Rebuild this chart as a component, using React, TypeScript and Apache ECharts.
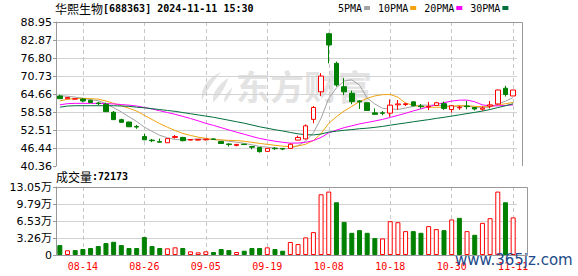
import React, { useEffect, useRef } from "react";
import * as echarts from "echarts";

const dates = [
  "08-09", "08-12", "08-13", "08-14", "08-15", "08-16", "08-19", "08-20", "08-21", "08-22",
  "08-23", "08-26", "08-27", "08-28", "08-29", "08-30", "09-02", "09-03", "09-04", "09-05",
  "09-06", "09-09", "09-10", "09-11", "09-12", "09-13", "09-18", "09-19", "09-20", "09-23",
  "09-24", "09-25", "09-26", "09-27", "09-30", "10-08", "10-09", "10-10", "10-11", "10-14",
  "10-15", "10-16", "10-17", "10-18", "10-21", "10-22", "10-23", "10-24", "10-25", "10-28",
  "10-29", "10-30", "10-31", "11-01", "11-04", "11-05", "11-06", "11-07", "11-08", "11-11",
];

const opens = [
  63.98, 63.07, 62.95, 62.97, 62.5, 61.6, 61.2, 58.5, 56.0, 55.2,
  53.7, 50.3, 49.1, 48.6, 48.2, 50.0, 50.0, 49.1, 49.1, 49.2,
  49.5, 48.6, 47.8, 47.3, 47.75, 46.9, 46.6, 45.3, 46.35, 46.3,
  46.3, 49.1, 49.5, 56.1, 65.4, 85.0, 75.0, 67.1, 64.9, 62.3,
  61.7, 58.3, 58.3, 58.2, 61.0, 61.1, 62.0, 60.6, 60.3, 60.8,
  61.4, 59.4, 60.0, 60.6, 60.1, 59.5, 60.6, 61.3, 66.6, 64.0,
];
const closes = [
  63.07, 63.5, 63.0, 62.3, 61.75, 61.4, 58.7, 56.0, 55.1, 53.6,
  53.5, 49.2, 48.9, 48.4, 49.6, 50.3, 48.9, 49.3, 49.35, 49.4,
  49.3, 47.95, 47.6, 47.65, 47.6, 46.7, 45.2, 46.3, 46.2, 46.1,
  47.7, 50.0, 53.9, 60.1, 70.7, 81.2, 67.7, 65.4, 62.1, 62.0,
  59.1, 57.8, 58.15, 60.9, 61.3, 61.35, 60.7, 60.4, 60.5, 61.7,
  59.8, 60.7, 60.2, 60.4, 59.6, 59.9, 61.0, 66.0, 64.5, 66.0,
];
const lows = [
  63.0, 62.97, 62.9, 61.86, 61.6, 60.9, 58.6, 55.9, 55.0, 53.5,
  52.9, 49.1, 48.4, 48.3, 48.2, 49.6, 48.7, 49.0, 49.0, 49.0,
  49.2, 47.9, 46.9, 47.0, 47.5, 46.0, 44.9, 45.2, 45.8, 45.7,
  46.2, 49.0, 49.3, 54.8, 64.0, 75.0, 67.1, 64.3, 61.2, 59.6,
  59.0, 57.7, 57.5, 57.0, 59.3, 60.6, 60.5, 59.7, 59.2, 60.6,
  59.3, 58.4, 59.3, 59.5, 59.1, 59.0, 59.8, 61.0, 63.8, 64.0,
];
const highs = [
  64.4, 63.6, 63.15, 63.2, 62.8, 62.0, 61.7, 58.9, 56.3, 55.3,
  54.2, 51.3, 49.5, 49.6, 49.6, 50.8, 50.2, 49.4, 49.45, 49.5,
  49.7, 48.7, 48.0, 47.8, 47.8, 47.0, 46.7, 46.4, 46.7, 46.4,
  48.0, 50.6, 54.4, 60.6, 71.7, 85.3, 75.6, 70.0, 65.8, 62.6,
  61.8, 59.8, 58.9, 62.8, 62.6, 61.7, 62.1, 61.3, 62.0, 62.0,
  62.1, 60.9, 60.7, 62.3, 60.3, 60.4, 62.3, 66.1, 67.4, 66.0,
];

const ma5 = [
  64.1, 63.9, 63.6, 63.2, 62.72, 62.39, 61.43, 60.03, 58.59, 56.96,
  55.38, 53.48, 52.06, 50.72, 49.92, 49.28, 49.22, 49.3, 49.49, 49.43,
  49.33, 49.08, 48.7, 48.38, 48.02, 47.5, 46.97, 46.71, 46.4, 46.1,
  46.3, 47.26, 48.78, 51.56, 56.48, 63.18, 66.72, 69.02, 69.42, 67.68,
  63.26, 61.28, 59.83, 59.59, 59.47, 59.91, 60.49, 60.93, 60.87, 60.93,
  60.63, 60.56, 60.52, 60.56, 60.14, 60.16, 60.22, 61.38, 62.2, 63.48,
];
const ma10 = [
  62.3, 62.9, 63.1, 63.2, 63.1, 62.9, 62.3, 61.5, 60.7, 59.84,
  58.89, 57.46, 56.05, 54.66, 53.44, 52.33, 51.35, 50.68, 50.1, 49.68,
  49.27, 49.14, 49.02, 48.93, 48.72, 48.35, 47.98, 47.67, 47.36, 47.05,
  46.89, 47.09, 47.72, 48.98, 51.29, 54.74, 56.99, 58.9, 60.49, 62.08,
  63.22, 64.0, 64.43, 64.51, 63.57, 61.58, 60.88, 60.38, 60.2, 60.16,
  60.23, 60.52, 60.72, 60.67, 60.5, 60.36, 60.39, 60.95, 61.38, 61.81,
];
const ma20 = [
  61.0, 61.4, 61.5, 61.5, 61.5, 61.5, 61.4, 61.3, 61.1, 60.9,
  60.6, 60.1, 59.6, 59.0, 58.4, 57.8, 57.1, 56.4, 55.6, 54.75,
  54.07, 53.29, 52.52, 51.78, 51.07, 50.34, 49.66, 49.18, 48.73, 48.36,
  48.07, 48.11, 48.36, 48.94, 50.0, 51.54, 52.48, 53.29, 53.93, 54.56,
  55.05, 55.55, 56.08, 56.75, 57.43, 58.16, 58.94, 59.64, 60.34, 61.12,
  61.73, 62.26, 62.58, 62.59, 62.04, 60.97, 60.64, 60.67, 60.79, 60.99,
];
const ma30 = [
  60.2, 60.6, 60.7, 60.7, 60.7, 60.7, 60.7, 60.7, 60.6, 60.5,
  60.2, 60.0, 59.7, 59.4, 59.1, 58.8, 58.4, 58.0, 57.6, 57.2,
  56.8, 56.3, 55.8, 55.3, 54.8, 54.2, 53.6, 53.1, 52.6, 52.18,
  51.67, 51.22, 50.92, 50.85, 51.14, 51.8, 52.1, 52.42, 52.65, 52.93,
  53.12, 53.4, 53.71, 54.13, 54.52, 54.89, 55.28, 55.65, 56.01, 56.43,
  56.78, 57.2, 57.62, 58.05, 58.45, 58.89, 59.42, 60.08, 60.69, 61.35,
];

const volumes = [
  19100, 9000, 9500, 11500, 13400, 17200, 22900, 25400, 19100, 13400,
  13400, 34400, 17200, 13400, 12800, 14700, 13400, 7000, 5100, 7000,
  5700, 11500, 9500, 5700, 8200, 13400, 13400, 14700, 11500, 8200,
  25000, 21000, 33800, 43900, 116500, 121700, 101200, 63600, 42600, 47700,
  42600, 32500, 31800, 64900, 63000, 45800, 45800, 42600, 55400, 49700,
  47700, 68200, 71300, 45800, 38800, 61700, 70700, 121700, 101200, 72173,
];

const priceTickLabels = ["40.36", "46.44", "52.51", "58.58", "64.66", "70.73", "76.80", "82.87", "88.95"];
const volumeTickLabels = ["0", "3.26万", "6.53万", "9.79万", "13.05万"];
const volumeMax = 130500;

const maNames = ["5PMA", "10PMA", "20PMA", "30PMA"];
const maColors = ["#a3a3a3", "#f2a30f", "#ff00ff", "#00703c"];

const UP = "#ff0000";
const DOWN = "#008000";

export default function App() {
  const ref = useRef<HTMLDivElement>(null);

  useEffect(() => {
    if (!ref.current) return;
    try {
      echarts.graphic.registerShape(
        "emLogo",
        echarts.graphic.extendPath(
          "M22 0 C8 6 0 18 2 30 C6 22 12 12 22 0 Z M30 6 C18 14 12 24 14 32 C20 26 26 18 30 6 Z M34 16 C28 22 24 28 26 32 C30 28 33 22 34 16 Z",
          {}
        )
      );
    } catch (e) {}

    const chart = echarts.init(ref.current, null, { renderer: "svg" });

    const yMin = parseFloat(priceTickLabels[0]);
    const yMax = parseFloat(priceTickLabels[priceTickLabels.length - 1]);
    const yStep = (yMax - yMin) / (priceTickLabels.length - 1);
    const vStep = volumeMax / (volumeTickLabels.length - 1);

    const candleData = dates.map((_, i) => [opens[i], closes[i], lows[i], highs[i]]);
    const volData = volumes.map((v, i) => {
      const prev = i > 0 ? closes[i - 1] : opens[i];
      const up = closes[i] > prev;
      return {
        value: v,
        itemStyle: up
          ? { color: "#ffffff", borderColor: UP, borderWidth: 1 }
          : { color: DOWN, borderColor: DOWN, borderWidth: 1 },
      };
    });
    const showIdx = (idx: number) => (idx - 3) % 8 === 0;
    const splitLine = {
      show: true,
      interval: (idx: number) => showIdx(idx),
      alignWithLabel: true,
      lineStyle: { color: "#c8c8c8", type: [4, 3], width: 1 },
    };
    const maSeries = [ma5, ma10, ma20, ma30].map((d, k) => ({
      type: "line",
      name: maNames[k],
      xAxisIndex: 0,
      yAxisIndex: 0,
      data: d,
      showSymbol: false,
      symbol: "none",
      smooth: false,
      silent: true,
      lineStyle: { width: 1, color: maColors[k] },
      itemStyle: { color: maColors[k] },
      z: 3,
    }));

    const option: any = {
      animation: false,
      backgroundColor: "#ffffff",
      title: [
        {
          text: "{a|华熙生物}{b|[688363] 2024-11-11 15:30}",
          left: 55,
          top: 2,
          padding: 0,
          textStyle: {
            rich: {
              a: { fontFamily: "Noto Sans CJK SC", fontSize: 12, fontWeight: "normal", color: "#000" },
              b: { fontFamily: "DejaVu Sans Mono", fontSize: 10, color: "#000" },
            },
          },
        },
        {
          text: "{a|成交量}{b|:" + volumes[volumes.length - 1] + "}",
          left: 56,
          top: 170,
          padding: 0,
          textStyle: {
            rich: {
              a: { fontFamily: "Noto Sans CJK SC", fontSize: 12, fontWeight: "normal", color: "#000" },
              b: { fontFamily: "DejaVu Sans Mono", fontSize: 10, color: "#000" },
            },
          },
        },
      ],
      legend: {
        data: maNames,
        left: 338,
        top: 3,
        padding: 0,
        align: "right",
        icon: "rect",
        itemWidth: 6,
        itemHeight: 4,
        itemGap: 8,
        selectedMode: false,
        textStyle: { fontFamily: "DejaVu Sans Mono", fontSize: 10, color: "#000", padding: [0, -3, 0, 0] },
      },
      grid: [
        { left: 56, top: 22, width: 461, height: 144 },
        { left: 56, top: 187, width: 461, height: 68 },
      ],
      xAxis: [
        {
          type: "category",
          gridIndex: 0,
          data: dates,
          boundaryGap: true,
          axisLine: { show: false },
          axisTick: { show: false },
          axisLabel: { show: false },
          splitLine,
        },
        {
          type: "category",
          gridIndex: 1,
          data: dates,
          boundaryGap: true,
          axisLine: { show: false },
          axisTick: { show: false },
          axisLabel: {
            interval: (idx: number) => showIdx(idx),
            color: UP,
            fontFamily: "DejaVu Sans Mono",
            fontSize: 10,
            margin: 6,
          },
          splitLine,
        },
      ],
      yAxis: [
        {
          type: "value",
          gridIndex: 0,
          min: yMin,
          max: yMax,
          interval: yStep,
          axisLine: { show: true, lineStyle: { color: "#999" } },
          axisTick: { show: true, length: 3, lineStyle: { color: "#999" } },
          axisLabel: {
            formatter: (v: number) => priceTickLabels[Math.round((v - yMin) / yStep)] ?? "",
            color: "#000",
            fontFamily: "DejaVu Sans",
            fontSize: 11,
            margin: 4,
          },
          splitLine: { show: true, showMinLine: false, showMaxLine: false, lineStyle: { color: "#d2d2d2" } },
        },
        {
          type: "value",
          gridIndex: 1,
          min: 0,
          max: volumeMax,
          interval: vStep,
          axisLine: { show: true, lineStyle: { color: "#999" } },
          axisTick: { show: true, length: 3, lineStyle: { color: "#999" } },
          axisLabel: {
            formatter: (v: number) => volumeTickLabels[Math.round(v / vStep)] ?? "",
            color: "#000",
            fontFamily: "DejaVu Sans, Noto Sans CJK SC",
            fontSize: 11,
            margin: 4,
          },
          splitLine: { show: true, showMinLine: false, showMaxLine: false, lineStyle: { color: "#d2d2d2" } },
        },
      ],
      graphic: [
        {
          type: "emLogo",
          x: 200,
          y: 72,
          scaleX: 0.95,
          scaleY: 0.95,
          z: 0,
          silent: true,
          style: { fill: "#e3e3e3" },
        },
        {
          type: "text",
          x: 236,
          y: 68,
          z: 0,
          silent: true,
          style: {
            text: "东方财富",
            font: 'bold 34px "Noto Sans CJK SC"',
            fill: "#e3e3e3",
            align: "left",
            verticalAlign: "top",
          },
        },
        {
          type: "line",
          z: 50,
          silent: true,
          shape: { x1: 56.5, y1: 22.5, x2: 522.5, y2: 22.5 },
          style: { stroke: "#999", lineWidth: 1 },
        },
        {
          type: "line",
          z: 50,
          silent: true,
          shape: { x1: 522.5, y1: 22.5, x2: 522.5, y2: 166 },
          style: { stroke: "#999", lineWidth: 1 },
        },
        {
          type: "rect",
          z: 50,
          silent: true,
          shape: { x: 56.5, y: 187.5, width: 471, height: 68 },
          style: { fill: "none", stroke: "#999", lineWidth: 1 },
        },
        {
          type: "text",
          x: 455,
          y: 252,
          z: 60,
          silent: true,
          style: {
            text: "www.365jz.com",
            font: '15px "DejaVu Sans"',
            fill: "#1c4a8a",
            align: "left",
            verticalAlign: "top",
          },
        },
      ],
      series: [
        {
          type: "candlestick",
          name: "K",
          xAxisIndex: 0,
          yAxisIndex: 0,
          data: candleData,
          barWidth: 5,
          silent: true,
          itemStyle: {
            color: "#ffffff",
            color0: DOWN,
            borderColor: UP,
            borderColor0: DOWN,
            borderWidth: 1,
          },
          z: 4,
        },
        ...maSeries,
        {
          type: "bar",
          name: "VOL",
          xAxisIndex: 1,
          yAxisIndex: 1,
          data: volData,
          barWidth: 5,
          silent: true,
        },
      ],
    };

    chart.setOption(option);
    return () => chart.dispose();
  }, []);

  return (
    <div
      ref={ref}
      style={{ position: "fixed", left: 0, top: 0, width: 578, height: 276, background: "#fff" }}
    />
  );
}
